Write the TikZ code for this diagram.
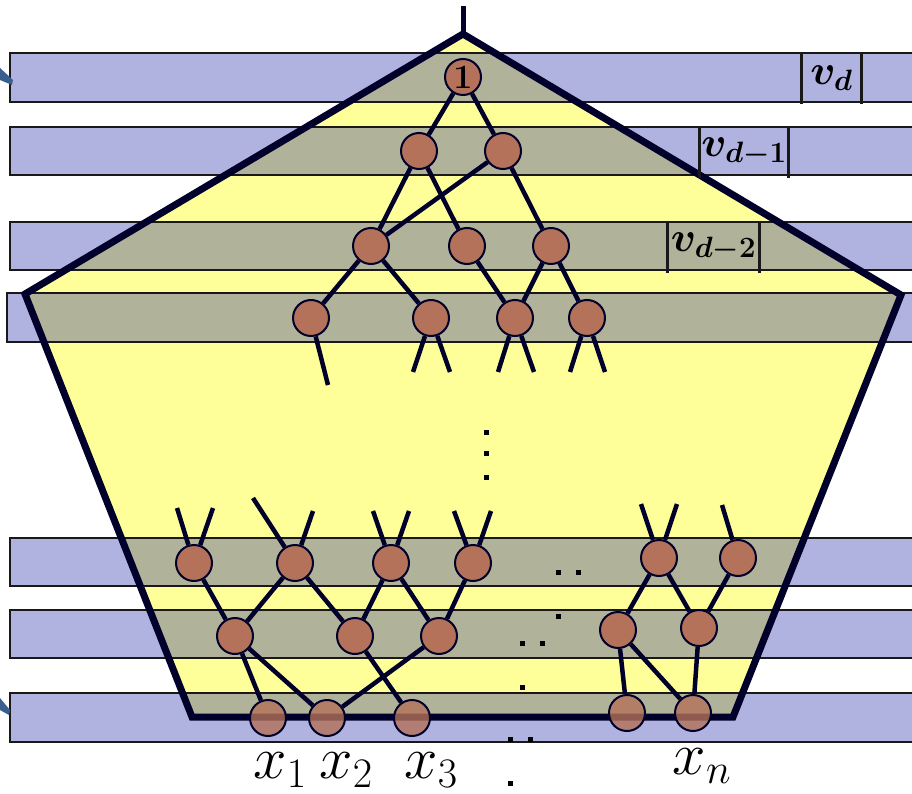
\RequirePackage{fix-cm}
\documentclass[tikz,border=0pt]{standalone}
\usepackage{amsmath}
\definecolor{bandblue}{HTML}{B0B2E0}
\definecolor{coneyellow}{HTML}{FFFF99}
\definecolor{bandgray}{HTML}{B1B29A}
\definecolor{gatefill}{HTML}{B37259}
\definecolor{navy}{HTML}{00002A}
\definecolor{tipblue}{HTML}{3A5F8F}

\begin{document}
\begin{tikzpicture}[x=1pt,y=-1pt]
    \tikzstyle{gate} = [circle, draw=navy, line width=2pt, fill=gatefill,
        minimum size=36pt, inner sep=0pt]
    \tikzstyle{leaf} = [gate, fill opacity=0.8]
    \tikzstyle{wire} = [draw, navy, line width=4.5pt]
    \tikzstyle{band} = [draw=black!90, line width=2pt]
    \tikzstyle{bar} = [draw=black!90, line width=3pt]
    \tikzstyle{level} = [minimum width=60pt, minimum height=51pt, inner sep=0pt,
        font=\fontsize{42}{42}\selectfont]
    \tikzstyle{input} = [inner sep=0pt, font=\fontsize{60}{60}\selectfont]

    \useasboundingbox (0,0) rectangle (912,794);
    \clip (0,0) rectangle (912,794);

    % bands
    \foreach \t/\b/\l in {53/102/10, 127/175/10, 222/270/10, 293/342/7,
                          538/586/10, 610/658/10, 693/742/10}
        \fill[bandblue] (\l,\t) rectangle (920,\b);
    %
    \coordinate (apex) at (463,34);
    \coordinate (stem) at (463,6);
    \coordinate (cr) at (901,295);
    \coordinate (br) at (733,717);
    \coordinate (bl) at (192,717);
    \coordinate (cl) at (25,294);
    \fill[coneyellow] (apex) -- (cr) -- (br) -- (bl) -- (cl) -- cycle;
    \begin{scope}
        \clip (apex) -- (cr) -- (br) -- (bl) -- (cl) -- cycle;
        \foreach \t/\b/\l in {53/102/10, 127/175/10, 222/270/10, 293/342/7,
                              538/586/10, 610/658/10, 693/742/10}
            \fill[bandgray] (\l,\t) rectangle (920,\b);
    \end{scope}
    \foreach \t/\b/\l in {53/102/10, 127/175/10, 222/270/10, 293/342/7,
                          538/586/10, 610/658/10, 693/742/10}
        \path[band] (\l,\t) rectangle (920,\b);
    %
    \draw[navy, line width=7pt] (apex) -- (cr) -- (br) -- (bl) -- (cl) -- cycle;
    \draw[navy, line width=5pt] (stem) -- (apex);

    % level labels
    \node [level, minimum width=59pt, minimum height=51pt] (vd) at (831.5,78.5)
        {$\boldsymbol{v_d}$};
    \path [bar] (vd.north west) -- (vd.south west) (vd.north east) -- (vd.south east);
    \node [level, minimum width=88pt, minimum height=51pt] (vd1) at (744,152)
        {$\boldsymbol{v_{d-1}}$};
    \path [bar] (vd1.north west) -- (vd1.south west) (vd1.north east) -- (vd1.south east);
    \node [level, minimum width=91pt, minimum height=51pt] (vd2) at (713.5,247)
        {$\boldsymbol{v_{d-2}}$};
    \path [bar] (vd2.north west) -- (vd2.south west) (vd2.north east) -- (vd2.south east);

    % top of the circuit
    \node [gate, font=\bfseries\fontsize{34}{34}\selectfont] (out) at (463,77) {1};
    \node [gate] (a1) at (419,151) {};
    \node [gate] (a2) at (503,151) {};
    \node [gate] (b1) at (371,246) {};
    \node [gate] (b2) at (467,246) {};
    \node [gate] (b3) at (551,246) {};
    \node [gate] (c1) at (311,318) {};
    \node [gate] (c2) at (431,318) {};
    \node [gate] (c3) at (515,318) {};
    \node [gate] (c4) at (587,318) {};
    %
    \path [wire] (out) -- (a1);
    \path [wire] (out) -- (a2);
    \path [wire] (a1) -- (b1);
    \path [wire] (a1) -- (b2);
    \path [wire] (a2) -- (b1);
    \path [wire] (a2) -- (b3);
    \path [wire] (b1) -- (c1);
    \path [wire] (b1) -- (c2);
    \path [wire] (b2) -- (c3);
    \path [wire] (b3) -- (c3);
    \path [wire] (b3) -- (c4);
    %
    \coordinate (c11) at (328,385);
    \coordinate (c21) at (413,372);
    \coordinate (c22) at (450,372);
    \coordinate (c31) at (498,372);
    \coordinate (c32) at (534,372);
    \coordinate (c41) at (570,372);
    \coordinate (c42) at (605,372);
    \path [wire] (c1) -- (c11);
    \path [wire] (c2) -- (c21);
    \path [wire] (c2) -- (c22);
    \path [wire] (c3) -- (c31);
    \path [wire] (c3) -- (c32);
    \path [wire] (c4) -- (c41);
    \path [wire] (c4) -- (c42);

    % bottom of the circuit
    \node [gate] (p1) at (194,563) {};
    \node [gate] (p2) at (295,563) {};
    \node [gate] (p3) at (391,563) {};
    \node [gate] (p4) at (473,563) {};
    \node [gate] (p5) at (659,558) {};
    \node [gate] (p6) at (738,558) {};
    \node [gate] (q1) at (235,636) {};
    \node [gate] (q2) at (355,636) {};
    \node [gate] (q3) at (439,636) {};
    \node [gate] (q4) at (618,630) {};
    \node [gate] (q5) at (699,628) {};
    \node [leaf] (l1) at (268,718) {};
    \node [leaf] (l2) at (327,718) {};
    \node [leaf] (l3) at (412,718) {};
    \node [leaf] (l4) at (627,713) {};
    \node [leaf] (l5) at (693,713) {};
    %
    \coordinate (p11) at (177,508);
    \coordinate (p12) at (213,508);
    \coordinate (p21) at (253,498);
    \coordinate (p22) at (313,511);
    \coordinate (p31) at (373,511);
    \coordinate (p32) at (409,511);
    \coordinate (p41) at (454,511);
    \coordinate (p42) at (491,511);
    \coordinate (p51) at (641,504);
    \coordinate (p52) at (677,504);
    \coordinate (p61) at (722,505);
    \path [wire] (p1) -- (p11);
    \path [wire] (p1) -- (p12);
    \path [wire] (p2) -- (p21);
    \path [wire] (p2) -- (p22);
    \path [wire] (p3) -- (p31);
    \path [wire] (p3) -- (p32);
    \path [wire] (p4) -- (p41);
    \path [wire] (p4) -- (p42);
    \path [wire] (p5) -- (p51);
    \path [wire] (p5) -- (p52);
    \path [wire] (p6) -- (p61);
    %
    \path [wire] (p1) -- (q1);
    \path [wire] (p2) -- (q1);
    \path [wire] (p2) -- (q2);
    \path [wire] (p3) -- (q2);
    \path [wire] (p3) -- (q3);
    \path [wire] (p4) -- (q3);
    \path [wire] (p5) -- (q4);
    \path [wire] (p5) -- (q5);
    \path [wire] (p6) -- (q5);
    %
    \path [wire] (q1) -- (l1);
    \path [wire] (q1) -- (l2);
    \path [wire] (q3) -- (l2);
    \path [wire] (q2) -- (l3);
    \path [wire] (q4) -- (l4);
    \path [wire] (q4) -- (l5);
    \path [wire] (q5) -- (l5);

    % dots
    \foreach \px/\py in {486/432, 486/453, 486/477, 558/572, 578/572, 558/616,
                         522/643, 542/643, 522/687, 510/739, 530/739, 510/783}
        \fill[black] (\px-2.5,\py-2.5) rectangle (\px+2.5,\py+2.5);

    % inputs
    \node [input] (x1) at (280,770) {$x_1$};
    \node [input] (x2) at (346,770) {$x_2$};
    \node [input] (x3) at (431,770) {$x_3$};
    \node [input] (xn) at (702,766) {$x_n$};

    % arrow tips from outside
    \fill[tipblue] (0,68) -- (13,80) -- (12,85) -- (0,80) -- cycle;
    \fill[tipblue] (0,698) -- (10,710) -- (9,715) -- (0,710) -- cycle;
\end{tikzpicture}
\end{document}
